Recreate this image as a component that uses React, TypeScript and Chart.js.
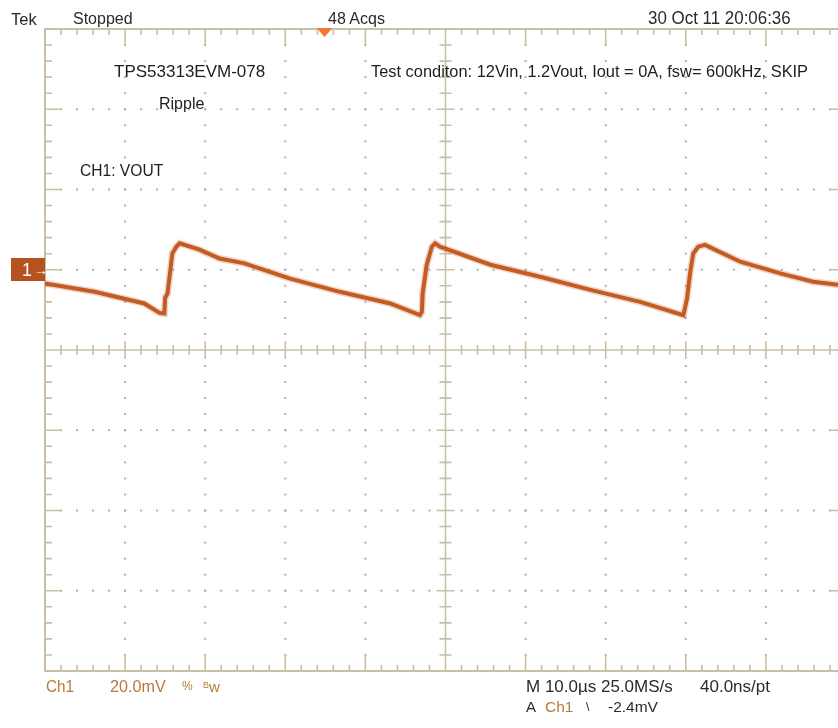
import React, { useEffect, useRef, useState } from "react";
import { Chart, registerables } from "chart.js";

Chart.register(...registerables);

// ---- Data ----
// time in microseconds from left edge of the screen (10 µs/div)
const timeUs = [0, 6.2, 12.4, 14.3, 14.9, 15.0, 15.3, 15.9, 16.4, 16.8, 19.3, 21.8, 24.9, 30.6, 36.8, 43.1, 46.8, 47.05, 47.15, 47.65, 48.3, 48.7, 49.3, 55.6, 61.8, 68.1, 74.3, 79.7, 80.15, 80.56, 80.94, 81.56, 82.4, 86.8, 91.8, 95.9, 100];
// CH1 VOUT ripple in mV relative to the channel-1 ground marker (20 mV/div)
const ch1mV = [-3.4, -5.5, -8.4, -10.75, -10.9, -7.0, -5.9, 4.1, 5.75, 6.6, 5.0, 2.8, 1.6, -2.2, -5.5, -8.4, -11.3, -10.5, -5.9, 1.2, 5.75, 6.6, 5.75, 1.25, -1.75, -5.0, -8.0, -11.3, -7.2, -0.5, 4.1, 5.75, 6.2, 2.0, -0.9, -3.0, -4.0];

// screen scale
const xRangeUs = [0, 100];
const xDivUs = 10;
const xMinorUs = 2;
const yRangeMv = [-100, 60];
const yDivMv = 20;
const yMinorMv = 4;
const xCenterUs = 50;
const yCenterMv = -20;
const groundMv = 0;
const triggerUs = 34.9;

// readouts
const headerTexts = { tek: "Tek", state: "Stopped", acqs: "48 Acqs", date: "30 Oct 11 20:06:36" };
const noteTexts = {
  board: "TPS53313EVM-078",
  kind: "Ripple",
  channel: "CH1: VOUT",
  cond: "Test conditon: 12Vin, 1.2Vout, Iout = 0A, fsw= 600kHz, SKIP",
};
const footerTexts = {
  ch: "Ch1",
  vdiv: "20.0mV",
  coupling: "%",
  bw: "w",
  horiz: "M 10.0\u00b5s 25.0MS/s",
  pt: "40.0ns/pt",
  trigA: "A",
  trigCh: "Ch1",
  slope: "\\",
  level: "-2.4mV",
};

// ---- Styles ----
const GRID = "#c9bfa3";
const DOT = "#a9b2b8";
const TRACE = "#c0581e";
const TRACE_HALO = "rgba(200,105,50,0.28)";
const MARKER = "#b5521f";
const TRIG = "#f07a33";
const BROWN = "#b87a3a";
const FONT = "'Liberation Sans', Arial, sans-serif";

const scopePlugin = {
  id: "scopeGrid",
  beforeDatasetsDraw(chart: any) {
    const { ctx, chartArea: a, scales } = chart;
    const x = scales.x;
    const y = scales.y;
    const L = a.left, R = a.right, T = a.top, B = a.bottom;
    const xc = x.getPixelForValue(xCenterUs);
    const yc = y.getPixelForValue(yCenterMv);
    const eps = 1e-6;
    ctx.save();

    // dotted division lines
    ctx.fillStyle = DOT;
    for (let xv = xRangeUs[0] + xDivUs; xv < xRangeUs[1] - eps; xv += xDivUs) {
      if (Math.abs(xv - xCenterUs) < eps) continue;
      const px = x.getPixelForValue(xv);
      for (let yv = yRangeMv[0] + yMinorMv; yv < yRangeMv[1] - eps; yv += yMinorMv) {
        const py = y.getPixelForValue(yv);
        if (Math.abs(py - yc) < 2) continue;
        ctx.fillRect(px - 1, py - 1, 2, 2);
      }
    }
    for (let yv = yRangeMv[0] + yDivMv; yv < yRangeMv[1] - eps; yv += yDivMv) {
      if (Math.abs(yv - yCenterMv) < eps) continue;
      const py = y.getPixelForValue(yv);
      for (let xv = xRangeUs[0] + xMinorUs; xv < xRangeUs[1] - eps; xv += xMinorUs) {
        const px = x.getPixelForValue(xv);
        if (Math.abs(px - xc) < 2) continue;
        ctx.fillRect(px - 1, py - 1, 2, 2);
      }
    }

    ctx.strokeStyle = GRID;
    ctx.lineWidth = 1.6;
    ctx.beginPath();
    // center cross
    ctx.moveTo(L, yc); ctx.lineTo(R, yc);
    ctx.moveTo(xc, T); ctx.lineTo(xc, B);
    // ticks along x
    for (let xv = xRangeUs[0] + xMinorUs; xv < xRangeUs[1] - eps; xv += xMinorUs) {
      const px = x.getPixelForValue(xv);
      const major = Math.abs(xv / xDivUs - Math.round(xv / xDivUs)) < eps;
      const bl = major ? 16 : 6;
      ctx.moveTo(px, T); ctx.lineTo(px, T + bl);
      ctx.moveTo(px, B); ctx.lineTo(px, B - bl);
      const cl = major ? 9 : 5;
      ctx.moveTo(px, yc - cl); ctx.lineTo(px, yc + cl);
    }
    // ticks along y
    for (let yv = yRangeMv[0] + yMinorMv; yv < yRangeMv[1] - eps; yv += yMinorMv) {
      const py = y.getPixelForValue(yv);
      const major = Math.abs(yv / yDivMv - Math.round(yv / yDivMv)) < eps;
      const bl = major ? 16 : 7;
      ctx.moveTo(L, py); ctx.lineTo(L + bl, py);
      ctx.moveTo(R, py); ctx.lineTo(R - bl, py);
      const cl = major ? 9 : 6;
      ctx.moveTo(xc - cl, py); ctx.lineTo(xc + cl, py);
    }
    ctx.stroke();

    // border
    ctx.lineWidth = 2;
    ctx.strokeRect(L, T, R - L, B - T);

    // trigger position marker
    const tx = x.getPixelForValue(triggerUs);
    ctx.fillStyle = TRIG;
    ctx.beginPath();
    ctx.moveTo(tx - 8, T - 1);
    ctx.lineTo(tx + 8, T - 1);
    ctx.lineTo(tx, T + 8);
    ctx.closePath();
    ctx.fill();
    ctx.restore();
  },
};

type TxtProps = {
  x: number; cy: number; size: number; color?: string; sx?: number; children: React.ReactNode;
};
const Txt = ({ x, cy, size, color = "#2a2a2a", sx = 1, children }: TxtProps) => (
  <div
    style={{
      position: "absolute",
      left: x,
      top: cy - size * 0.49,
      fontFamily: FONT,
      fontSize: size,
      lineHeight: 1,
      color,
      whiteSpace: "nowrap",
      transform: sx !== 1 ? `scaleX(${sx})` : undefined,
      transformOrigin: "left center",
    }}
  >
    {children}
  </div>
);

export default function App() {
  const ref = useRef<HTMLCanvasElement | null>(null);
  const [marker, setMarker] = useState<{ y: number; left: number } | null>(null);

  useEffect(() => {
    document.body.style.margin = "0";
    const canvas = ref.current;
    if (!canvas) return;
    const points = timeUs.map((t, i) => ({ x: t, y: ch1mV[i] }));
    const chart = new Chart(canvas, {
      type: "line",
      data: {
        datasets: [
          { data: points, borderColor: TRACE_HALO, borderWidth: 7, pointRadius: 0, tension: 0 },
          { data: points, borderColor: TRACE, borderWidth: 4, pointRadius: 0, tension: 0 },
        ],
      },
      options: {
        animation: false,
        responsive: false,
        events: [],
        layout: { padding: { left: 45, top: 29, right: 14, bottom: 57 } },
        plugins: { legend: { display: false }, tooltip: { enabled: false } },
        scales: {
          x: { type: "linear", min: xRangeUs[0], max: xRangeUs[1], display: false },
          y: { type: "linear", min: yRangeMv[0], max: yRangeMv[1], display: false },
        },
      },
      plugins: [scopePlugin],
    } as any);
    setMarker({ y: chart.scales.y.getPixelForValue(groundMv), left: chart.chartArea.left });
    return () => chart.destroy();
  }, []);

  return (
    <div
      style={{
        position: "fixed",
        left: 0,
        top: 0,
        width: 838,
        height: 728,
        overflow: "hidden",
        background: "#ffffff",
      }}
    >
      <canvas ref={ref} width={860} height={728} style={{ position: "absolute", left: 0, top: 0 }} />

      <Txt x={11} cy={19} size={16.5}>{headerTexts.tek}</Txt>
      <Txt x={73} cy={19} size={16}>{headerTexts.state}</Txt>
      <Txt x={328} cy={19} size={16}>{headerTexts.acqs}</Txt>
      <Txt x={648} cy={18} size={18} sx={0.94}>{headerTexts.date}</Txt>

      <Txt x={114} cy={71} size={17} color="#1e1e1e">{noteTexts.board}</Txt>
      <Txt x={159} cy={104} size={16} color="#1e1e1e">{noteTexts.kind}</Txt>
      <Txt x={80} cy={171} size={15.6} color="#1e1e1e">{noteTexts.channel}</Txt>
      <Txt x={371} cy={71} size={16.4} color="#1e1e1e">{noteTexts.cond}</Txt>

      <Txt x={46} cy={686} size={17} sx={0.9} color={BROWN}>{footerTexts.ch}</Txt>
      <Txt x={110} cy={686} size={17} sx={0.95} color={BROWN}>{footerTexts.vdiv}</Txt>
      <Txt x={182} cy={686} size={12} color={BROWN}>{footerTexts.coupling}</Txt>
      <Txt x={203} cy={686} size={15} color={BROWN}>
        <span style={{ fontSize: 9, verticalAlign: 4 }}>B</span>
        {footerTexts.bw}
      </Txt>
      <Txt x={526} cy={686.5} size={17}>{footerTexts.horiz}</Txt>
      <Txt x={700} cy={686.5} size={17}>{footerTexts.pt}</Txt>
      <Txt x={526} cy={706.5} size={15}>{footerTexts.trigA}</Txt>
      <Txt x={545} cy={706.5} size={15.5} color={BROWN}>{footerTexts.trigCh}</Txt>
      <Txt x={586} cy={706.5} size={12}>{footerTexts.slope}</Txt>
      <Txt x={608} cy={706.5} size={15.5}>{footerTexts.level}</Txt>

      {marker && (
        <div
          style={{
            position: "absolute",
            left: 11,
            top: marker.y - 11.5,
            width: marker.left - 11,
            height: 23,
            background: MARKER,
            color: "#ffffff",
            fontFamily: FONT,
            display: "flex",
            alignItems: "center",
            boxSizing: "border-box",
            paddingLeft: 11,
          }}
        >
          <span style={{ fontSize: 18, lineHeight: 1 }}>1</span>
          <span style={{ fontSize: 14, lineHeight: 1, marginLeft: 2 }}>{"\u2192"}</span>
        </div>
      )}
    </div>
  );
}
